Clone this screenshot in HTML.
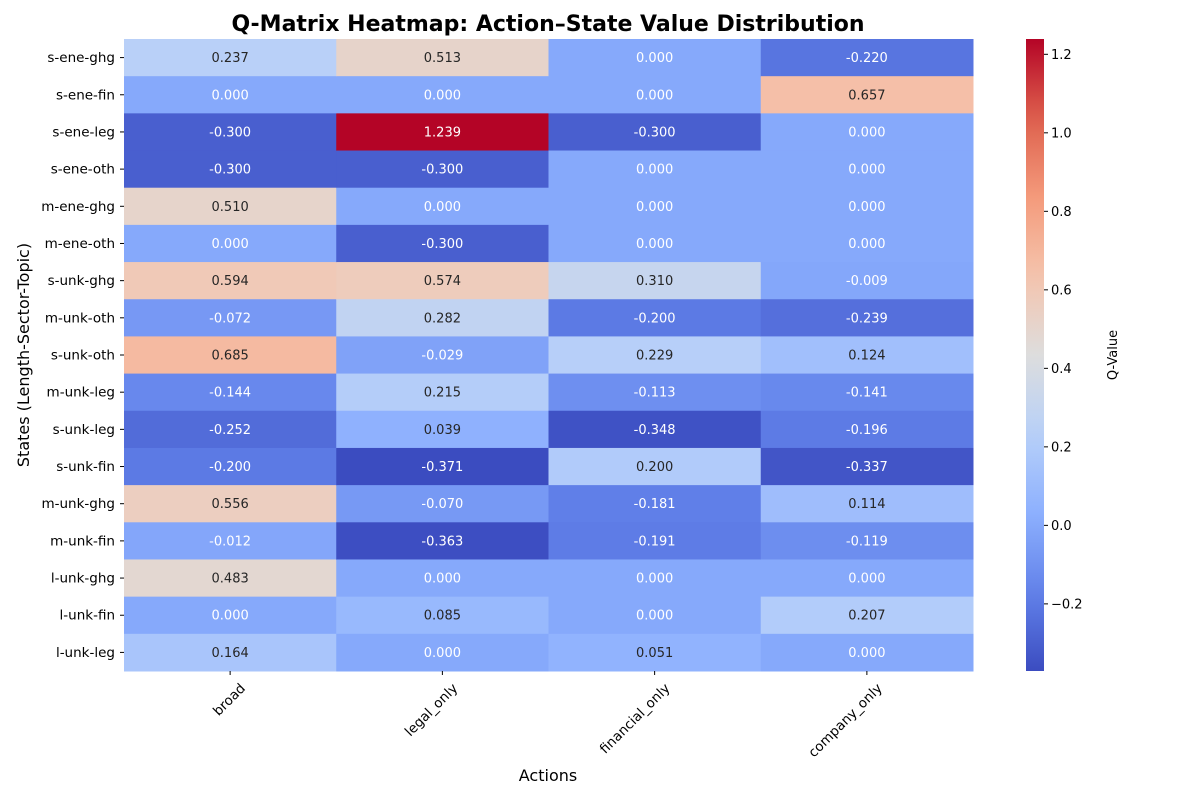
<!DOCTYPE html>
<html><head><meta charset="utf-8"><style>
body{margin:0;background:#fff;}
svg{font-family:"DejaVu Sans","Liberation Sans",sans-serif;}
</style></head><body>
<svg id="chart" width="1200" height="800" viewBox="0 0 1200 800">
<text x="548" y="31" text-anchor="middle" font-size="22" font-weight="bold">Q-Matrix Heatmap: Action–State Value Distribution</text>
<g id="cells"></g>
<g id="ylabels"></g>
<g id="xlabels"></g>
<text x="548" y="781" text-anchor="middle" font-size="16">Actions</text>
<text transform="translate(29,355) rotate(-90)" text-anchor="middle" font-size="16">States (Length-Sector-Topic)</text>
<defs><linearGradient id="cg" x1="0" y1="1" x2="0" y2="0"></linearGradient></defs>
<rect x="1026" y="39" width="18" height="632" fill="url(#cg)"/>
<g id="cticks"></g>
<text transform="translate(1117,355) rotate(-90)" text-anchor="middle" font-size="13">Q-Value</text>
</svg>
<script>
const actions=["broad","legal_only","financial_only","company_only"];
const states=["s-ene-ghg","s-ene-fin","s-ene-leg","s-ene-oth","m-ene-ghg","m-ene-oth","s-unk-ghg","m-unk-oth","s-unk-oth","m-unk-leg","s-unk-leg","s-unk-fin","m-unk-ghg","m-unk-fin","l-unk-ghg","l-unk-fin","l-unk-leg"];
const qBroad=[0.237,0,-0.3,-0.3,0.510,0,0.594,-0.072,0.685,-0.144,-0.252,-0.200,0.556,-0.012,0.483,0,0.164];
const qLegal=[0.513,0,1.239,-0.3,0,-0.3,0.574,0.282,-0.029,0.215,0.039,-0.371,-0.070,-0.363,0,0.085,0];
const qFinancial=[0,0,-0.3,0,0,0,0.310,-0.200,0.229,-0.113,-0.348,0.200,-0.181,-0.191,0,0,0.051];
const qCompany=[-0.220,0.657,0,0,0,0,-0.009,-0.239,0.124,-0.141,-0.196,-0.337,0.114,-0.119,0,0.207,0];
const cbTicks=[-0.2,0,0.2,0.4,0.6,0.8,1.0,1.2];
const cols=[qBroad,qLegal,qFinancial,qCompany];
const all=cols.flat();
const vmin=Math.min(...all), vmax=Math.max(...all);
const X0=124,X1=973,Y0=39,Y1=671;
const cw=(X1-X0)/actions.length, ch=(Y1-Y0)/states.length;
const xPos=i=>X0+i*cw, yPos=j=>Y0+j*ch;
const cbY=v=>Y1-(v-vmin)/(vmax-vmin)*(Y1-Y0);
const stops=[[59,76,192],[98,130,234],[141,176,254],[184,208,249],[221,221,221],[245,196,173],[244,154,123],[222,96,77],[180,4,38]];
function cmap(t){t=Math.max(0,Math.min(1,t));const s=t*8,i=Math.min(7,Math.floor(s)),f=s-i;
const c=stops[i].map((a,k)=>Math.round(a+(stops[i+1][k]-a)*f));return `rgb(${c})`;}
const NS="http://www.w3.org/2000/svg";
function mk(tag,attrs,parent){const e=document.createElementNS(NS,tag);for(const k in attrs)e.setAttribute(k,attrs[k]);parent.appendChild(e);return e;}
const cells=document.getElementById('cells');
cols.forEach((col,i)=>col.forEach((v,j)=>{
 const t0=(v-vmin)/(vmax-vmin);
 const r=mk('rect',{x:xPos(i),y:yPos(j),width:cw+0.5,height:ch+0.5,fill:cmap(t0)},cells);
 
 
 const dark=(v<=0.02)||(t0>0.82);
 const t=mk('text',{x:xPos(i)+cw/2,y:yPos(j)+ch/2+4.5,'text-anchor':'middle','font-size':13,fill:(dark?'#fff':'#262626')},cells);
 t.textContent=v.toFixed(3).replace('-0.000','0.000');
 
 
}));
const yl=document.getElementById('ylabels');
states.forEach((s,j)=>{
 mk('line',{x1:X0-4,x2:X0,y1:yPos(j)+ch/2,y2:yPos(j)+ch/2,stroke:'#000'},yl);
 const t=mk('text',{x:X0-9,y:yPos(j)+ch/2+4.5,'text-anchor':'end','font-size':13.5},yl);
 t.textContent=s;
 
 
});
const xl=document.getElementById('xlabels');
actions.forEach((a,i)=>{
 const cx=xPos(i)+cw/2;
 mk('line',{x1:cx,x2:cx,y1:Y1,y2:Y1+4,stroke:'#000'},xl);
 const t=mk('text',{transform:`translate(${cx+16},${Y1+18}) rotate(-45)`,'text-anchor':'end','font-size':13.5},xl);
 t.textContent=a;
 
 
});
const g=document.getElementById('cg');
for(let k=0;k<=20;k++){mk('stop',{offset:k/20,'stop-color':cmap(k/20)},g);}
const ct=document.getElementById('cticks');
cbTicks.forEach(v=>{
 const y=cbY(v);
 mk('line',{x1:1044,x2:1048,y1:y,y2:y,stroke:'#000'},ct);
 const t=mk('text',{x:1051,y:y+4.5,'font-size':13},ct);
 t.textContent=(v<0?'\u2212':'')+Math.abs(v).toFixed(1);
 
 
});
</script>
</body></html>
